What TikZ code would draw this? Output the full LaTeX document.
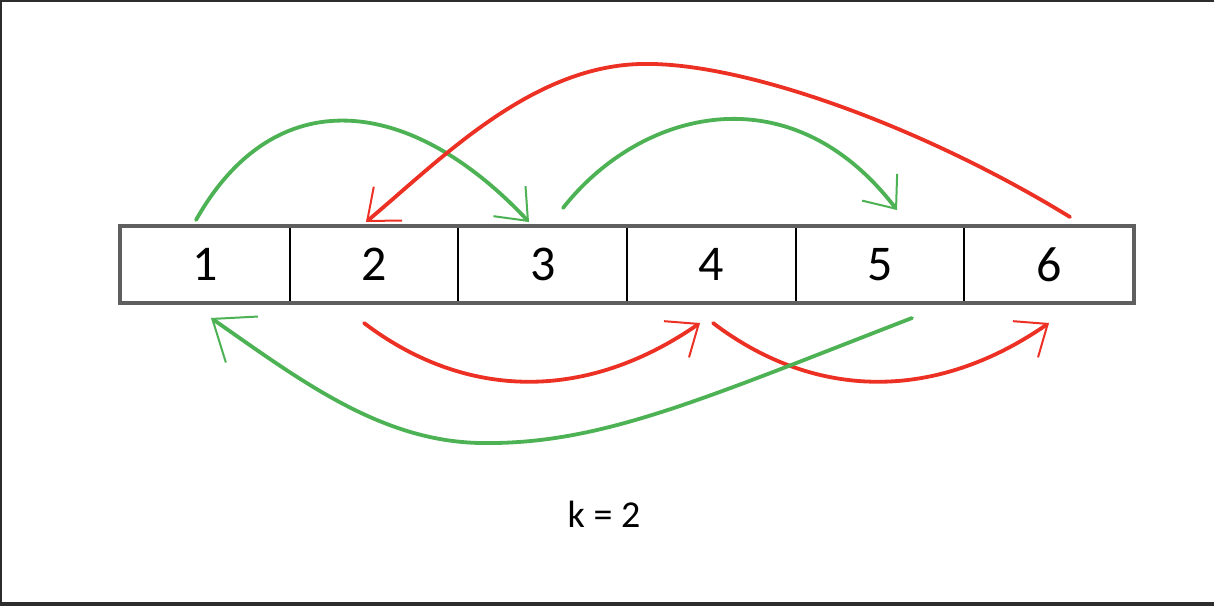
\documentclass[tikz,border=0pt]{standalone}
\usepackage{fontspec}
\setmainfont{Carlito}
\usetikzlibrary{arrows.meta,calc}
\definecolor{grn}{RGB}{76,178,84}
\definecolor{rd}{RGB}{236,48,36}
\definecolor{frm}{RGB}{45,45,45}
\definecolor{boxgray}{RGB}{95,95,95}
\tikzset{
  cell/.style={draw=black, line width=2pt, minimum width=168.67pt, minimum height=75pt,
    inner sep=0pt, font=\fontsize{50}{50}\selectfont},
  curveline/.style={line width=3.8pt, line cap=round},
  garrow/.style={curveline, draw=grn, -{Straight Barb[length=27pt,width=44pt,line width=2pt]}},
  rarrow/.style={curveline, draw=rd, -{Straight Barb[length=27pt,width=44pt,line width=2pt]}},
  bigtip/.style={-{Straight Barb[length=36pt,width=56pt,line width=2pt]}},
  klabel/.style={font=\fontsize{38}{38}\selectfont, inner sep=0pt}
}
\begin{document}
\begin{tikzpicture}[x=1pt,y=-1pt]
\fill[white] (0,0) rectangle (1214,606);
\useasboundingbox (0,0) rectangle (1214,606);
% frame
\fill[frm] (0,0) rectangle (1214,2);
\fill[frm] (0,0) rectangle (2,606);
\fill[frm] (0,602) rectangle (1214,606);
% cells
\foreach \i in {1,...,6}
  \node[cell] (c\i) at ({121+168.667*(\i-0.5)},264.5) {\i};
\draw[boxgray, line width=3.5pt] (c1.north west) rectangle (c6.south east);
% end points
\coordinate (g1s) at (196,220);
\coordinate (g1e) at (529,222);
\coordinate (g2s) at (563,208);
\coordinate (g2e) at (897,210);
\coordinate (r0s) at (1070,217);
\coordinate (r0m) at (640,64);
\coordinate (r0e) at (366,222);
\coordinate (r1s) at (364,323);
\coordinate (r1e) at (700,323);
\coordinate (r2s) at (713,323);
\coordinate (r2e) at (1049,323);
\coordinate (g3s) at (912,318);
\coordinate (g3m) at (480,443);
\coordinate (g3e) at (211,318);
% upper arcs
\draw[garrow] (g1s) .. controls (275,80) and (410,95) .. (g1e);
\draw[garrow] (g2s) .. controls (640,110) and (790,70) .. (g2e);
\draw[rarrow] (r0s) .. controls (920,125) and (740,61) .. (r0m)
              .. controls (530,67) and (440,160) .. (r0e);
% lower arcs
\draw[rarrow] (r1s) .. controls (460,396) and (580,406) .. (r1e);
\draw[rarrow] (r2s) .. controls (809,396) and (929,406) .. (r2e);
\draw[garrow, bigtip] (g3s) .. controls (700,400) and (600,445) .. (g3m)
              .. controls (380,441) and (300,380) .. (g3e);
% label
\node[klabel] (k) at (604,514) {k = 2};
\end{tikzpicture}
\end{document}
